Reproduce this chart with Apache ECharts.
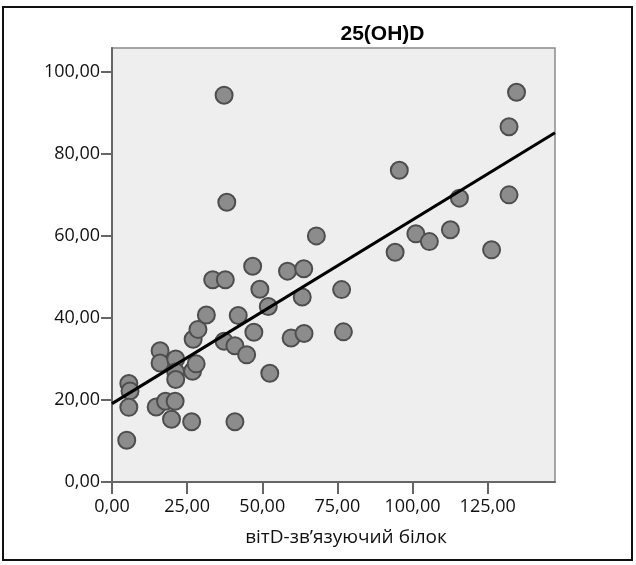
<!DOCTYPE html>
<html>
<head>
<meta charset="utf-8">
<script src="https://cdn.jsdelivr.net/npm/echarts@6/dist/echarts.min.js"></script>
<style>html,body{margin:0;padding:0;background:#fff;}#c{width:636px;height:565px;}</style>
</head>
<body>
<div id="c"></div>
<script>
const titleText = '25(OH)D';
const xName = 'вітD-зв’язуючий білок';
const xTicks = [0, 25, 50, 75, 100, 125];
const yTicks = [0, 20, 40, 60, 80, 100];
const xRange = [0, 147.4];
const yRange = [0, 105.8];
const xValues = [4.9, 5.6, 6.0, 5.6, 14.7, 17.8, 21.0, 19.8, 26.5, 40.9,
  16.0, 16.0, 21.2, 21.2, 21.2, 26.8, 28.0, 27.0, 28.6, 31.4,
  42.0, 37.3, 40.9, 44.8, 47.2, 52.5, 52.0, 59.6, 63.9, 63.3,
  49.2, 46.8, 58.4, 63.8, 33.5, 37.7, 38.2, 37.3, 68.0, 76.4,
  77.0, 94.2, 95.6, 101.1, 105.6, 112.6, 115.6, 126.3, 132.1, 132.1, 134.6];
const yValues = [10.2, 24.0, 22.2, 18.2, 18.3, 19.7, 19.7, 15.3, 14.7, 14.7,
  32.0, 29.0, 30.0, 26.8, 25.0, 27.0, 28.8, 34.8, 37.2, 40.7,
  40.6, 34.3, 33.2, 31.0, 36.5, 26.5, 42.8, 35.1, 36.2, 45.1,
  47.0, 52.6, 51.4, 52.0, 49.3, 49.3, 68.2, 94.3, 60.0, 46.9,
  36.6, 56.0, 76.0, 60.5, 58.6, 61.5, 69.2, 56.6, 70.0, 86.6, 95.0];
const fitIntercept = 19.1;
const fitSlope = 0.448;

const points = xValues.map((x, i) => [x, yValues[i]]);
const fitLine = [[xRange[0], fitIntercept + fitSlope * xRange[0]], [xRange[1], fitIntercept + fitSlope * xRange[1]]];
const fmt = v => Number(v).toFixed(2).replace('.', ',');
const labelFont = {fontFamily: 'Open Sans', fontSize: 18, color: '#111'};

const chart = echarts.init(document.getElementById('c'), null, {renderer: 'canvas'});
chart.setOption({
  animation: false,
  backgroundColor: '#ffffff',
  grid: {left: 112, top: 48, right: 81, bottom: 83, show: true, backgroundColor: '#eeeeee', borderColor: '#8a8a8a', borderWidth: 1.5},
  xAxis: {
    type: 'value', min: xRange[0], max: xRange[1],
    splitLine: {show: false},
    axisLine: {show: true, onZero: false, lineStyle: {color: '#666', width: 2}},
    axisTick: {show: true, length: 12, customValues: xTicks, lineStyle: {color: '#666', width: 2}},
    axisLabel: Object.assign({customValues: xTicks, formatter: fmt, margin: 16}, labelFont)
  },
  yAxis: {
    type: 'value', min: yRange[0], max: yRange[1],
    splitLine: {show: false},
    axisLine: {show: true, onZero: false, lineStyle: {color: '#666', width: 2}},
    axisTick: {show: true, length: 11, customValues: yTicks, lineStyle: {color: '#666', width: 2}},
    axisLabel: Object.assign({customValues: yTicks, formatter: fmt, margin: 12}, labelFont)
  },
  series: [
    {type: 'scatter', data: points, symbolSize: 17,
     itemStyle: {color: '#8c8c8c', borderColor: '#4e4e4e', borderWidth: 2, opacity: 1}},
    {type: 'line', data: fitLine, symbol: 'none', lineStyle: {color: '#000', width: 3}, z: 3}
  ],
  graphic: [
    {type: 'rect', shape: {x: 3, y: 7, width: 629, height: 553}, style: {fill: 'none', stroke: '#111', lineWidth: 2}, z: 100},
    {type: 'text', x: 382.5, y: 34, style: {text: titleText, fontFamily: 'Liberation Sans', fontWeight: 'bold', fontSize: 21, fill: '#000', align: 'center', verticalAlign: 'middle'}},
    {type: 'text', x: 346, y: 538, style: {text: xName, fontFamily: 'Open Sans', fontSize: 19, fill: '#111', align: 'center', verticalAlign: 'middle'}}
  ]
});
</script>
</body>
</html>
